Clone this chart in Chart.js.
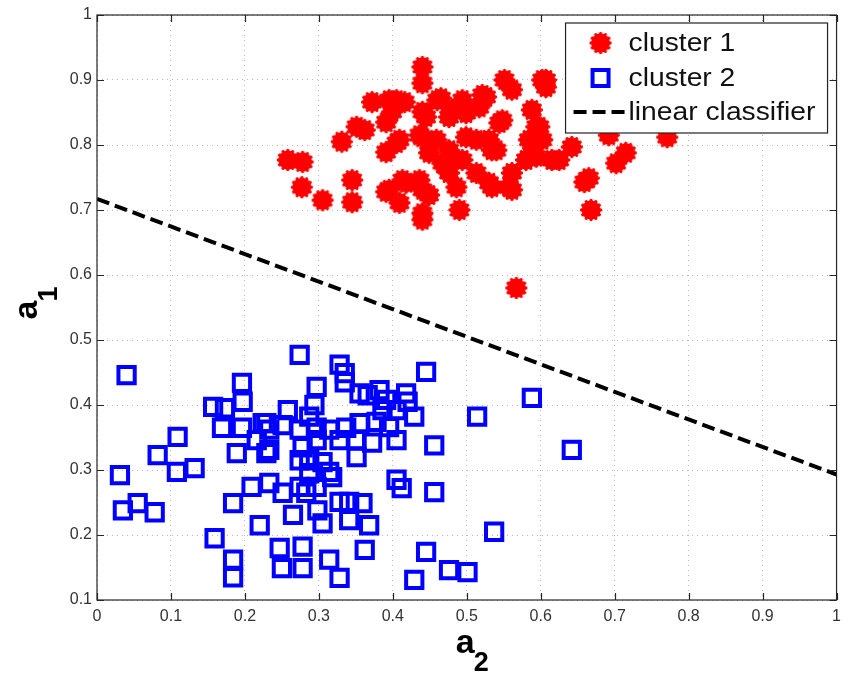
<!DOCTYPE html>
<html>
<head>
<meta charset="utf-8">
<script src="https://cdn.jsdelivr.net/npm/chart.js@4.4.0/dist/chart.umd.min.js"></script>
<style>
  html, body { margin: 0; padding: 0; background: #fff; }
</style>
</head>
<body>
<canvas id="myChart" width="848" height="673"></canvas>
<script>
// cluster 1 (red stars)
const cluster1X = [0.440,0.440,0.551,0.561,0.602,0.372,0.395,0.416,0.460,0.494,
  0.521,0.351,0.362,0.391,0.399,0.440,0.476,0.499,0.588,0.594,
  0.331,0.391,0.409,0.436,0.459,0.513,0.540,0.449,0.476,0.258,
  0.278,0.277,0.345,0.345,0.305,0.391,0.413,0.436,0.409,0.449,
  0.476,0.486,0.490,0.513,0.530,0.557,0.561,0.580,0.602,0.440,
  0.467,0.494,0.607,0.526,0.544,0.598,0.534,0.588,0.625,0.642,
  0.665,0.659,0.702,0.715,0.668,0.692,0.771,0.567,0.405,0.465,
  0.607,0.445,0.480,0.517,0.548,0.405,0.440,0.499,0.530,0.584,
  0.594,0.615,0.472,0.561,0.534,0.440,0.418,0.395,0.440];
const cluster1Y = [0.920,0.895,0.900,0.885,0.900,0.866,0.869,0.866,0.869,0.869,
  0.877,0.828,0.823,0.835,0.851,0.851,0.843,0.849,0.854,0.828,
  0.805,0.789,0.808,0.815,0.808,0.808,0.792,0.788,0.792,0.777,
  0.774,0.735,0.746,0.712,0.715,0.728,0.746,0.746,0.711,0.723,
  0.757,0.735,0.700,0.757,0.742,0.735,0.757,0.777,0.808,0.685,
  0.772,0.777,0.900,0.874,0.834,0.828,0.792,0.788,0.777,0.797,
  0.749,0.743,0.772,0.788,0.700,0.815,0.812,0.580,0.869,0.872,
  0.889,0.843,0.854,0.858,0.838,0.803,0.812,0.812,0.808,0.808,
  0.782,0.777,0.766,0.731,0.735,0.731,0.742,0.731,0.695];

// cluster 2 (blue squares)
const cluster2X = [0.040,0.196,0.157,0.173,0.197,0.169,0.196,0.274,0.109,0.082,
  0.108,0.132,0.031,0.189,0.209,0.258,0.229,0.229,0.035,0.055,
  0.078,0.184,0.220,0.159,0.184,0.184,0.247,0.250,0.278,0.328,
  0.335,0.335,0.445,0.297,0.366,0.391,0.420,0.429,0.514,0.294,
  0.287,0.456,0.456,0.405,0.412,0.537,0.445,0.476,0.501,0.429,
  0.328,0.362,0.368,0.314,0.278,0.298,0.328,0.341,0.359,0.305,
  0.341,0.265,0.251,0.283,0.233,0.287,0.314,0.351,0.287,
  0.233,0.251,0.274,0.297,0.314,0.337,0.355,0.378,0.395,0.405,
  0.372,0.351,0.328,0.297,0.278,0.233,0.216,0.224,0.274,0.305,
  0.318,0.274,0.297,0.382,0.418,0.405,0.386,0.355,0.588,0.642];
const cluster2Y = [0.446,0.434,0.397,0.395,0.405,0.365,0.365,0.477,0.351,0.323,
  0.297,0.303,0.292,0.326,0.274,0.392,0.372,0.326,0.238,0.249,
  0.235,0.249,0.215,0.195,0.162,0.135,0.180,0.149,0.149,0.462,
  0.449,0.435,0.451,0.428,0.415,0.408,0.405,0.382,0.382,0.400,
  0.382,0.338,0.266,0.285,0.272,0.205,0.174,0.146,0.143,0.131,
  0.134,0.177,0.215,0.162,0.182,0.238,0.251,0.251,0.249,0.218,
  0.223,0.231,0.265,0.265,0.280,0.295,0.297,0.320,0.315,
  0.362,0.369,0.362,0.365,0.362,0.365,0.372,0.374,0.366,0.346,
  0.342,0.346,0.346,0.346,0.335,0.331,0.346,0.372,0.315,0.312,
  0.289,0.274,0.274,0.423,0.418,0.392,0.392,0.418,0.411,0.331];

// linear classifier end points
const lineX = [0, 1];
const lineY = [0.717, 0.293];

const xTicks = [0, 0.1, 0.2, 0.3, 0.4, 0.5, 0.6, 0.7, 0.8, 0.9, 1];
const yTicks = [0.1, 0.2, 0.3, 0.4, 0.5, 0.6, 0.7, 0.8, 0.9, 1];

const seriesNames = ['cluster 1', 'cluster 2', 'linear classifier'];

function toPoints(xs, ys) {
  return xs.map((x, i) => ({x: x, y: ys[i]}));
}

// red "*" marker drawn thick, like matlab
function starMarker(color) {
  const c = document.createElement('canvas');
  c.width = 24; c.height = 24;
  const g = c.getContext('2d');
  g.fillStyle = color;
  g.strokeStyle = color;
  g.beginPath();
  g.arc(12, 12, 9.4, 0, Math.PI * 2);
  g.fill();
  g.lineWidth = 3.4;
  g.lineCap = 'round';
  for (let k = 0; k < 12; k++) {
    const a = k * Math.PI / 6;
    g.beginPath();
    g.moveTo(12, 12);
    g.lineTo(12 + 9.5 * Math.cos(a), 12 + 9.5 * Math.sin(a));
    g.stroke();
  }
  return c;
}
const redStar = starMarker('#ff0000');

const frameAndLegend = {
  id: 'frameAndLegend',
  afterDatasetsDraw(chart) {
    const ctx = chart.ctx;
    const a = chart.chartArea;
    const sx = chart.scales.x, sy = chart.scales.y;
    ctx.save();
    // box + inward ticks
    ctx.strokeStyle = '#262626';
    ctx.lineWidth = 1.2;
    ctx.strokeRect(a.left, a.top, a.right - a.left, a.bottom - a.top);
    ctx.beginPath();
    sx.ticks.forEach(t => {
      const p = Math.round(sx.getPixelForValue(t.value)) + 0.5;
      ctx.moveTo(p, a.bottom); ctx.lineTo(p, a.bottom - 7);
      ctx.moveTo(p, a.top); ctx.lineTo(p, a.top + 7);
    });
    sy.ticks.forEach(t => {
      const p = Math.round(sy.getPixelForValue(t.value)) + 0.5;
      ctx.moveTo(a.left, p); ctx.lineTo(a.left + 7, p);
      ctx.moveTo(a.right, p); ctx.lineTo(a.right - 7, p);
    });
    ctx.stroke();

    // legend box inside the axes, top right
    const bx = a.right - 271, by = a.top + 8, bw = 262, bh = 110;
    ctx.fillStyle = '#fff';
    ctx.fillRect(bx, by, bw, bh);
    ctx.strokeStyle = '#222';
    ctx.lineWidth = 1.2;
    ctx.strokeRect(bx, by, bw, bh);

    const mx = bx + 35;
    const rows = [by + 20, by + 55, by + 89];
    ctx.drawImage(redStar, mx - 12, rows[0] - 12);
    ctx.strokeStyle = '#0000ff';
    ctx.lineWidth = 4;
    ctx.strokeRect(mx - 8, rows[1] - 8, 16, 16);
    ctx.strokeStyle = '#000';
    ctx.setLineDash([13, 6]);
    ctx.beginPath();
    ctx.moveTo(bx + 8, rows[2]);
    ctx.lineTo(bx + 62, rows[2]);
    ctx.stroke();
    ctx.setLineDash([]);

    ctx.fillStyle = '#111';
    ctx.font = '25px "Liberation Sans", Arial, sans-serif';
    ctx.textBaseline = 'middle';
    seriesNames.forEach((name, i) => {
      ctx.save();
      ctx.translate(bx + 63, rows[i] + 1);
      ctx.scale(1.13, 1);
      ctx.fillText(name, 0, 0);
      ctx.restore();
    });
    ctx.restore();
  },
  afterDraw(chart) {
    const ctx = chart.ctx;
    const a = chart.chartArea;
    ctx.save();
    ctx.fillStyle = '#000';
    ctx.textBaseline = 'alphabetic';
    // x title: a2
    const cx = (a.left + a.right) / 2;
    ctx.font = 'bold 34px "Liberation Sans", Arial, sans-serif';
    ctx.fillText('a', cx - 11, 653);
    ctx.font = 'bold 27px "Liberation Sans", Arial, sans-serif';
    ctx.fillText('2', cx + 7, 671);
    // y title: a1
    const cy = (a.top + a.bottom) / 2;
    ctx.translate(37, cy + 12);
    ctx.rotate(-Math.PI / 2);
    ctx.font = 'bold 34px "Liberation Sans", Arial, sans-serif';
    ctx.fillText('a', 0, 0);
    ctx.font = 'bold 27px "Liberation Sans", Arial, sans-serif';
    ctx.fillText('1', 18, 20);
    ctx.restore();
  }
};

const tickFont = {family: '"Liberation Sans", Arial, sans-serif', size: 16};

new Chart(document.getElementById('myChart'), {
  type: 'scatter',
  data: {
    datasets: [{
      label: seriesNames[0],
      data: toPoints(cluster1X, cluster1Y),
      pointStyle: redStar,
      pointRadius: 10,
      pointHoverRadius: 10
    }, {
      label: seriesNames[1],
      data: toPoints(cluster2X, cluster2Y),
      pointStyle: 'rect',
      pointRadius: 11.5,
      pointHoverRadius: 11.5,
      pointBorderWidth: 4,
      pointBorderColor: '#0000ff',
      pointBackgroundColor: 'rgba(0,0,0,0)'
    }, {
      label: seriesNames[2],
      data: toPoints(lineX, lineY),
      showLine: true,
      borderColor: '#000',
      borderWidth: 4,
      borderDash: [13, 6],
      pointRadius: 0,
      pointHoverRadius: 0
    }]
  },
  options: {
    responsive: false,
    animation: false,
    events: [],
    layout: {autoPadding: false, padding: {top: 15, right: 10, left: 0, bottom: 0}},
    plugins: {
      legend: {display: false},
      tooltip: {enabled: false}
    },
    scales: {
      x: {
        type: 'linear',
        min: 0, max: 1,
        afterBuildTicks: s => { s.ticks = xTicks.map(v => ({value: v})); },
        afterFit: s => { s.height = 73; },
        grid: {color: '#b8b8b8', drawTicks: false, lineWidth: 1},
        border: {display: false, dash: [1, 4]},
        ticks: {
          padding: 7,
          color: '#333',
          font: tickFont,
          maxRotation: 0,
          callback: v => String(Number(v.toFixed(1)))
        }
      },
      y: {
        type: 'linear',
        min: 0.1, max: 1,
        afterBuildTicks: s => { s.ticks = yTicks.map(v => ({value: v})); },
        afterFit: s => { s.width = 97; },
        grid: {color: '#b8b8b8', drawTicks: false, lineWidth: 1},
        border: {display: false, dash: [1, 4]},
        ticks: {
          padding: 5,
          color: '#333',
          font: tickFont,
          callback: v => String(Number(v.toFixed(1)))
        }
      }
    }
  },
  plugins: [frameAndLegend]
});
</script>
</body>
</html>
